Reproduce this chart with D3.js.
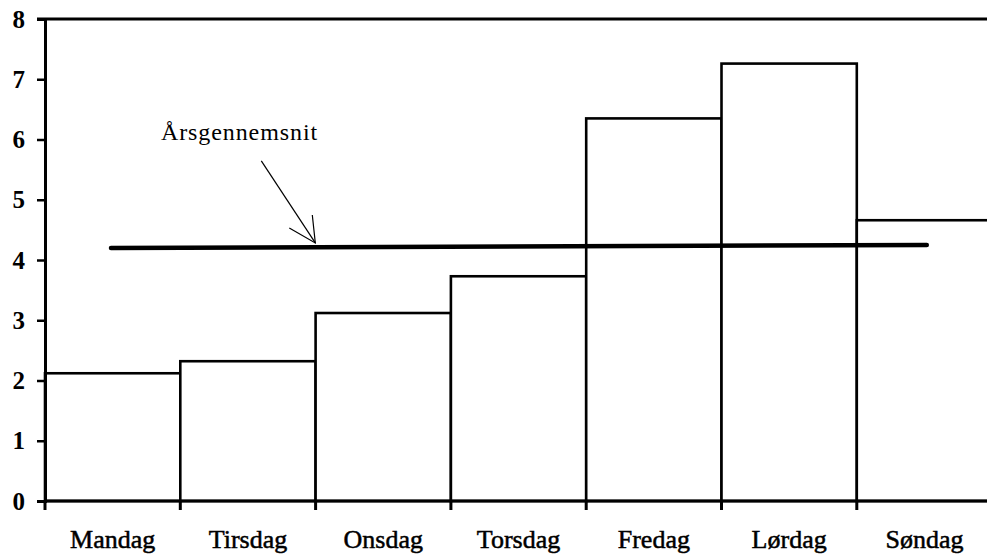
<!DOCTYPE html>
<html>
<head>
<meta charset="utf-8">
<script src="https://cdn.jsdelivr.net/npm/d3@7"></script>
<style>
  body { margin: 0; background: #fff; }
  text { font-family: "Liberation Serif", "DejaVu Serif", serif; fill: #000; }
</style>
</head>
<body>
<svg id="chart" width="987" height="555"></svg>
<script>
// days of the week and the value for each
const days = ["Mandag", "Tirsdag", "Onsdag", "Torsdag", "Fredag", "Lørdag", "Søndag"];
const values = [2.12, 2.32, 3.12, 3.73, 6.35, 7.26, 4.66];
const yTicks = [0, 1, 2, 3, 4, 5, 6, 7, 8];
// yearly average, drawn as a slightly tilted thick line
const averageLabel = "Årsgennemsnit";
const averageStart = 4.2, averageEnd = 4.25;

const margin = {top: 19, left: 45}
  , bandWidth = 135.3
  , width = bandWidth * days.length
  , height = 501 - margin.top;

const svg = d3.select("#chart");
const g = svg.append("g")
  .attr("transform", "translate(" + margin.left + "," + margin.top + ")");

const x = d3.scaleBand()
  .domain(days)
  .range([0, width])
  .padding(0);

const y = d3.scaleLinear()
  .domain([0, 8])
  .range([height, 0]);

// bars
g.selectAll(".bar")
  .data(days)
  .enter().append("rect")
  .attr("class", "bar")
  .attr("x", d => x(d))
  .attr("y", (d, i) => y(values[i]))
  .attr("width", x.bandwidth())
  .attr("height", (d, i) => y(0) - y(values[i]))
  .attr("fill", "#fff")
  .attr("stroke", "#000")
  .attr("stroke-width", 2.6);

// top frame line at 8
g.append("line")
  .attr("x1", -8).attr("x2", 1000)
  .attr("y1", y(8)).attr("y2", y(8))
  .attr("stroke", "#000").attr("stroke-width", 3);

// y axis
const yAxis = g.append("g")
  .attr("class", "y axis")
  .call(d3.axisLeft(y).tickValues(yTicks).tickSize(8).tickPadding(12).tickFormat(d3.format("d")));
yAxis.select(".domain").attr("stroke-width", 3);
yAxis.selectAll(".tick line").attr("stroke-width", 2.5);
yAxis.selectAll(".tick text")
  .style("font-family", "'Liberation Serif', serif")
  .style("font-size", "25px")
  .style("font-weight", "bold")
  .attr("fill", "#000");

// x axis: labels centred under each day, ticks at band edges
const xAxis = g.append("g")
  .attr("class", "x axis")
  .attr("transform", "translate(0," + height + ")")
  .call(d3.axisBottom(x).tickSize(0).tickPadding(29));
xAxis.select(".domain").remove();
xAxis.selectAll(".tick text")
  .style("font-family", "'Liberation Serif', serif")
  .style("font-size", "26px")
  .attr("stroke", "#000")
  .attr("stroke-width", 0.5)
  .attr("fill", "#000");

g.append("line")
  .attr("x1", 0).attr("x2", 1000)
  .attr("y1", height).attr("y2", height)
  .attr("stroke", "#000").attr("stroke-width", 3);

g.selectAll(".xtick")
  .data(days)
  .enter().append("line")
  .attr("class", "xtick")
  .attr("x1", d => x(d)).attr("x2", d => x(d))
  .attr("y1", height).attr("y2", height + 9)
  .attr("stroke", "#000").attr("stroke-width", 3);

// average line
g.append("line")
  .attr("x1", x("Mandag") + 66).attr("x2", x("Søndag") + 70)
  .attr("y1", y(averageStart)).attr("y2", y(averageEnd))
  .attr("stroke", "#000").attr("stroke-width", 4.5)
  .attr("stroke-linecap", "round");

// label and arrow
const tipX = x("Tirsdag") + 135, tipY = y(averageStart) - 5;
g.append("text")
  .attr("x", x("Mandag") + 116)
  .attr("y", y(5.99))
  .style("font-size", "24px")
  .style("letter-spacing", "0.9px")
  .text(averageLabel);

const arrow = g.append("g").attr("stroke", "#000").attr("stroke-width", 1.2).attr("fill", "none");
arrow.append("line")
  .attr("x1", tipX - 54).attr("y1", tipY - 82)
  .attr("x2", tipX).attr("y2", tipY);
arrow.append("path")
  .attr("d", "M" + (tipX - 26) + "," + (tipY - 15) + "L" + tipX + "," + tipY + "L" + (tipX - 3) + "," + (tipY - 28));
</script>
</body>
</html>
